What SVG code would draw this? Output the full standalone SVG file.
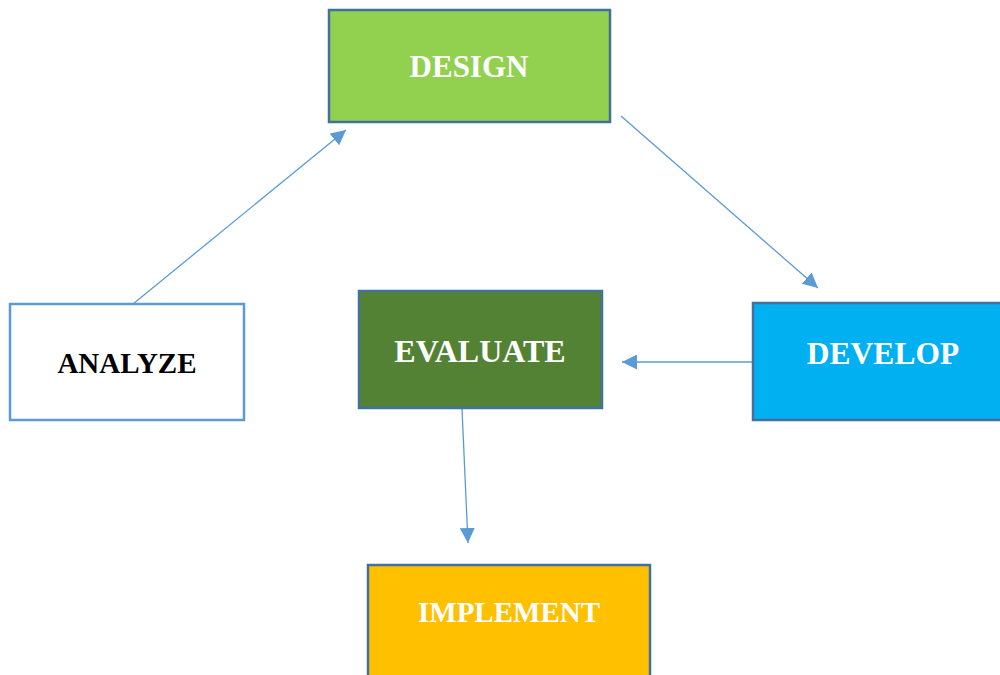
<svg xmlns="http://www.w3.org/2000/svg" width="1000" height="675" viewBox="0 0 1000 675">
<style>
.box{stroke:#41719C;stroke-width:2.5}
.lbl{font-family:"Liberation Serif","Times New Roman",serif;font-weight:bold;text-anchor:middle;fill:#FFFFFF}
.conn{stroke:#5B9BD5;stroke-width:1.3;fill:none;marker-end:url(#ah)}
</style>
<defs>
<marker id="ah" viewBox="0 0 10 10" refX="10" refY="5" markerWidth="15" markerHeight="15" markerUnits="userSpaceOnUse" orient="auto">
<path d="M0,0 L10,5 L0,10 z" fill="#5B9BD5"/>
</marker>
</defs>
<rect width="1000" height="675" fill="#FFFFFF"/>
<g id="connectors">
<line class="conn" x1="133" y1="304" x2="346" y2="130"/>
<line class="conn" x1="621" y1="116" x2="818" y2="288"/>
<line class="conn" x1="753" y1="362" x2="622" y2="362"/>
<line class="conn" x1="462" y1="409" x2="468" y2="543"/>
</g>
<g id="design">
<rect class="box" x="329" y="10" width="281" height="112" fill="#92D050"/>
<text class="lbl" x="469" y="77" font-size="31">DESIGN</text>
</g>
<g id="analyze">
<rect x="10" y="304" width="234" height="116" fill="#FFFFFF" stroke="#5B9BD5" stroke-width="2.5"/>
<text class="lbl" x="127" y="373" font-size="29" style="fill:#000000">ANALYZE</text>
</g>
<g id="evaluate">
<rect class="box" x="359" y="291" width="243" height="117" fill="#548235"/>
<text class="lbl" x="480" y="362" font-size="32">EVALUATE</text>
</g>
<g id="develop">
<rect class="box" x="753" y="303" width="260" height="117" fill="#00B0F0"/>
<text class="lbl" x="883" y="364" font-size="31.5">DEVELOP</text>
</g>
<g id="implement">
<rect class="box" x="368" y="565" width="282" height="130" fill="#FFC000"/>
<text class="lbl" x="509" y="622" font-size="29">IMPLEMENT</text>
</g>
</svg>
